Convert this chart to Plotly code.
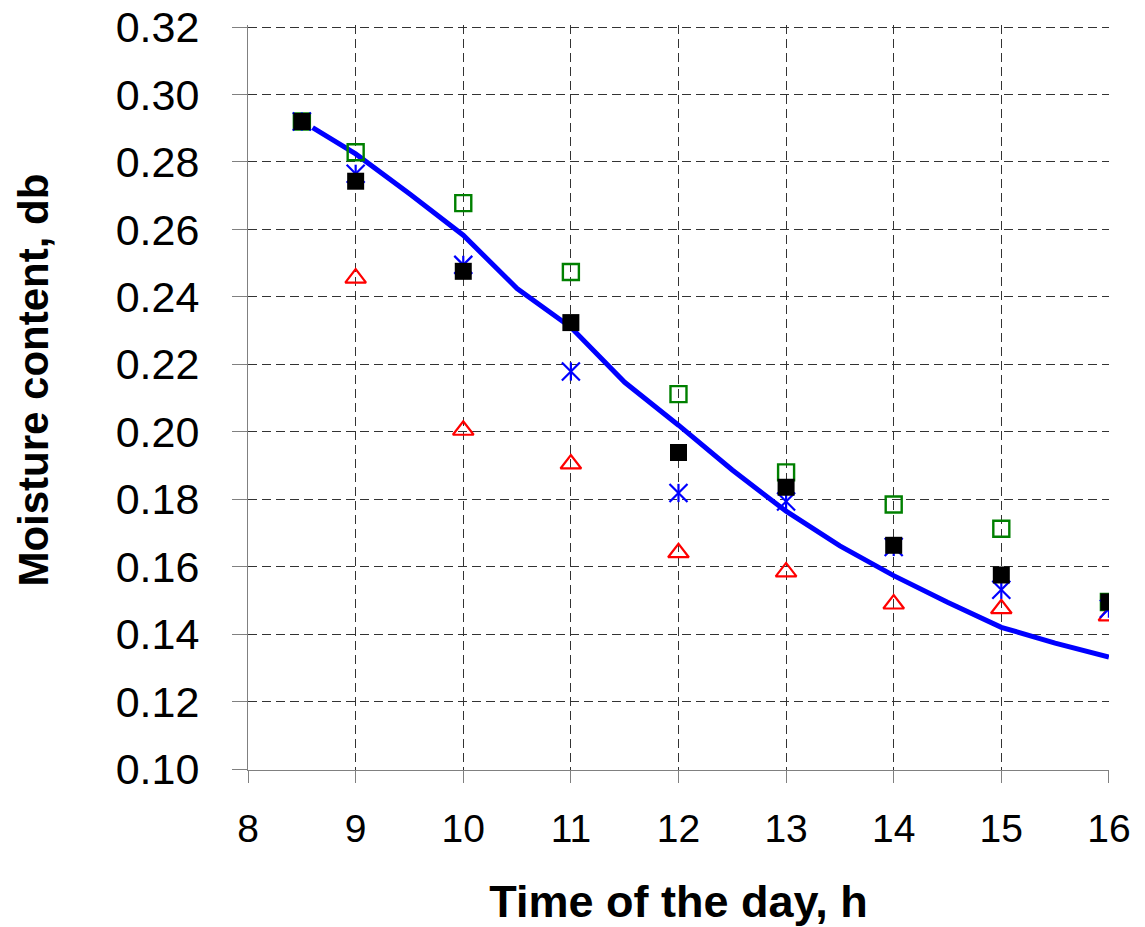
import plotly.graph_objects as go

# ---- data ----
hours = [8.5, 9, 10, 11, 12, 13, 14, 15, 16]
series_black = [0.292, 0.2743, 0.2476, 0.2324, 0.1939, 0.1836, 0.1664, 0.1576, 0.1496]
series_green = [0.292, 0.2829, 0.2678, 0.2474, 0.2112, 0.188, 0.1785, 0.1713, 0.1496]
series_star = [0.292, 0.2765, 0.2495, 0.2179, 0.1819, 0.1794, 0.1659, 0.1532, 0.1476]
series_red_x = [9, 10, 11, 12, 13, 14, 15, 16]
series_red = [0.2456, 0.2005, 0.1905, 0.1642, 0.1585, 0.149, 0.1476, 0.1455]

model_x = [8.6, 9, 9.5, 10, 10.5, 11, 11.5, 12, 12.5, 13, 13.5, 14, 14.5, 15, 15.5, 16]
model_y = [0.2902, 0.2824, 0.2706, 0.2583, 0.2425, 0.231, 0.2147, 0.202, 0.1887,
           0.1765, 0.1662, 0.1574, 0.1495, 0.1421, 0.1374, 0.1333]

x_ticks = [8, 9, 10, 11, 12, 13, 14, 15, 16]
y_ticks = [0.10, 0.12, 0.14, 0.16, 0.18, 0.20, 0.22, 0.24, 0.26, 0.28, 0.30, 0.32]

FONT = "Liberation Sans, Arial, sans-serif"

fig = go.Figure()
fig.add_trace(go.Scatter(x=model_x, y=model_y, mode="lines",
                         line=dict(color="#0000FF", width=5),
                         showlegend=False))
fig.add_trace(go.Scatter(x=series_red_x, y=series_red, mode="markers",
                         marker=dict(symbol="triangle-up-open", size=18,
                                     line=dict(color="#FF0000", width=2.2), color="#FF0000"),
                         showlegend=False))
fig.add_trace(go.Scatter(x=hours, y=series_green, mode="markers",
                         marker=dict(symbol="square-open", size=16,
                                     line=dict(color="#008000", width=2.4), color="#008000"),
                         showlegend=False))
fig.add_trace(go.Scatter(x=hours, y=series_star, mode="markers",
                         marker=dict(symbol="x-thin-open", size=18,
                                     line=dict(color="#0000FF", width=2.2), color="#0000FF"),
                         showlegend=False))
fig.add_trace(go.Scatter(x=hours, y=series_star, mode="markers",
                         marker=dict(symbol="line-ns-open", size=13,
                                     line=dict(color="#0000FF", width=2.2), color="#0000FF"),
                         showlegend=False))
fig.add_trace(go.Scatter(x=hours, y=series_black, mode="markers",
                         marker=dict(symbol="square", size=17, color="#000000",
                                     line=dict(width=0)),
                         showlegend=False))

fig.update_layout(
    width=1145, height=927,
    margin=dict(l=248, r=36, t=25, b=157, pad=0, autoexpand=False),
    paper_bgcolor="white", plot_bgcolor="white",
    font=dict(family=FONT, color="black"),
    xaxis=dict(range=[7.9995, 16.0008], tickvals=x_ticks, ticktext=[str(v) for v in x_ticks],
               showline=True, linecolor="#808080", linewidth=1,
               ticks="outside", ticklen=12, tickcolor="#808080", tickwidth=1,
               showgrid=True, gridcolor="#333333", gridwidth=1, griddash="9px,5px",
               zeroline=False, tickfont=dict(size=39, family=FONT), ticklabelstandoff=12,
               ticklabeloverflow="allow",
               title=dict(text="<b>Time of the day, h</b>", font=dict(size=45, family=FONT),
                          standoff=47)),
    yaxis=dict(range=[0.0998, 0.3206], tickvals=y_ticks, ticktext=[f"{v:.2f}" for v in y_ticks],
               showline=True, linecolor="#808080", linewidth=1,
               ticks="outside", ticklen=15, tickcolor="#808080", tickwidth=1,
               showgrid=True, gridcolor="#333333", gridwidth=1, griddash="9px,5px",
               zeroline=False, tickfont=dict(size=43, family=FONT), ticklabelstandoff=24,
               ticklabeloverflow="allow"),
    annotations=[dict(text="<b>Moisture content, db</b>", textangle=-90,
                      xref="paper", yref="paper", x=0, y=0.5227,
                      xanchor="center", yanchor="middle", xshift=-214,
                      showarrow=False, font=dict(size=42, family=FONT, color="black"))],
)

fig.write_html("out.html", post_script="document.body.style.margin='0';",
               config={"displayModeBar": False})
